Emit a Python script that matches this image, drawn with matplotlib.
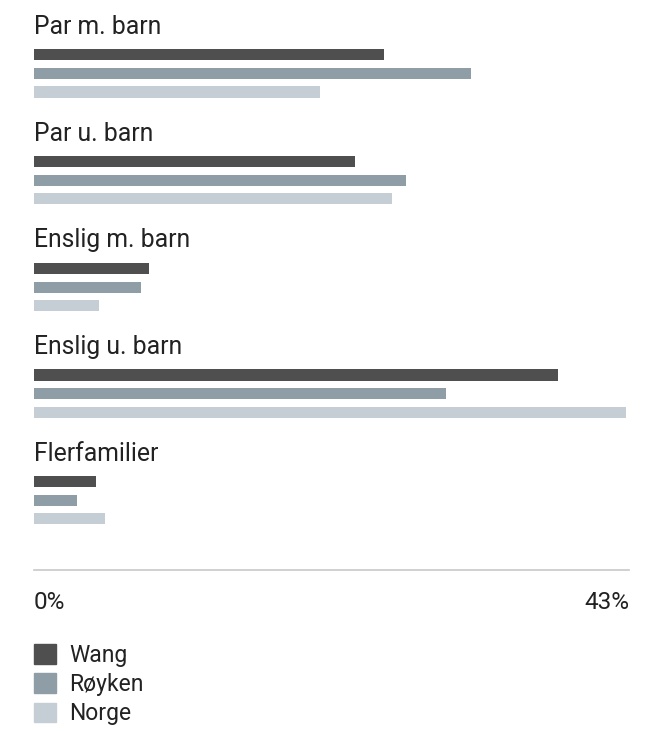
import matplotlib.pyplot as plt
from matplotlib.patches import Patch

categories = ["Par m. barn", "Par u. barn", "Enslig m. barn", "Enslig u. barn", "Flerfamilier"]
series = ["Wang", "Røyken", "Norge"]
wang = [25.3, 23.2, 8.3, 37.9, 4.5]
royken = [31.6, 26.9, 7.7, 29.8, 3.1]
norge = [20.7, 25.9, 4.7, 42.8, 5.1]
colors = ["#4f4f4f", "#8f9ea6", "#c5ced5"]
x_max = 43

plt.rcParams['font.family'] = ['Roboto', 'DejaVu Sans']

W, H = 662, 731
fig = plt.figure(figsize=(W / 100, H / 100), dpi=100)
# axes spans from left edge of bars to right end of axis line, top of figure to axis line
ax = fig.add_axes([34 / W, (H - 570) / H, 595 / W, 570 / H])

offsets = [-0.177, 0.0, 0.172]
bar_h = 0.105
for vals, off, col in zip([wang, royken, norge], offsets, colors):
    ax.barh([i + off for i in range(len(categories))], vals, height=bar_h, color=col)

for i, cat in enumerate(categories):
    ax.text(0, i - 0.372, cat, fontsize=17.8, color="#222222", va="baseline", ha="left")

ax.set_xlim(0, x_max)
ax.set_ylim(4.651, -0.691)
ax.set_yticks([])
ax.set_xticks([0, x_max])
ax.set_xticklabels(["0%", f"{x_max}%"], fontsize=17.5, color="#222222")
ax.get_xticklabels()[0].set_ha("left")
ax.get_xticklabels()[1].set_ha("right")
ax.tick_params(axis="x", length=0, pad=15)
for s in ["top", "left", "right"]:
    ax.spines[s].set_visible(False)
ax.spines["bottom"].set_color("#c8c8c8")
ax.spines["bottom"].set_linewidth(1.2)

handles = [Patch(color=c, label=s) for c, s in zip(colors, series)]
fig.legend(handles=handles, loc="upper left", bbox_to_anchor=(34 / W, 1 - 644 / H),
           frameon=False, fontsize=16.5, handlelength=0.95, handleheight=0.95,
           labelspacing=0.27, handletextpad=0.6, borderpad=0, borderaxespad=0,
           labelcolor="#222222")

fig.savefig("out.png", dpi=100)
